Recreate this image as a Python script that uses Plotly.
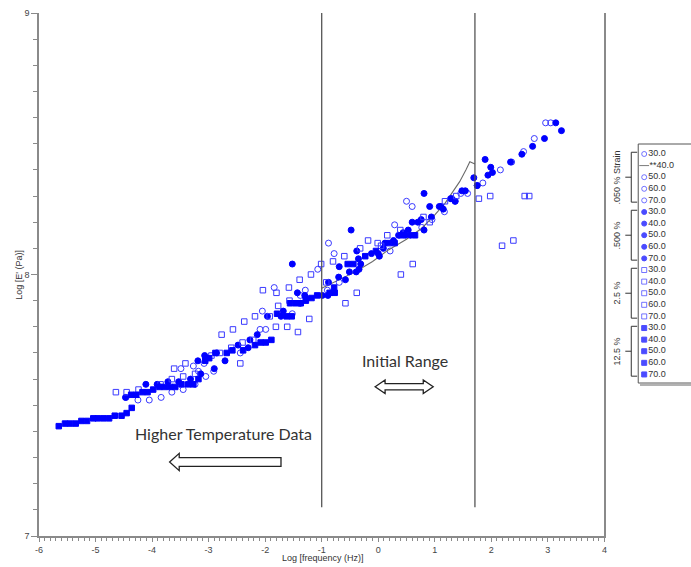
import plotly.graph_objects as go

# ---------------- data (log frequency [Hz], log E' [Pa]) ----------------
temps = [30.0, 40.0, 50.0, 60.0, 70.0]
strain_labels = [".050 % Strain", ".500 %", "2.5 %", "12.5 %"]

# .050 % strain  (open circles; 40.0 drawn as a line)
s050_30_x = [0.21, 0.29, 0.50, 0.60, 0.77, 0.95, 1.17, 1.36, 1.46, 1.58, 1.75, 1.85, 2.16, 2.36, 2.57, 2.76, 2.96, 3.05]
s050_30_y = [8.09, 8.19, 8.28, 8.26, 8.18, 8.21, 8.24, 8.28, 8.31, 8.31, 8.34, 8.35, 8.40, 8.43, 8.47, 8.52, 8.58, 8.58]
s050_40_x = [-1.00, -0.70, -0.40, -0.10, 0.18, 0.50, 0.77, 1.00, 1.18, 1.32, 1.44, 1.55, 1.62, 1.71]
s050_40_y = [7.947, 7.978, 8.011, 8.050, 8.094, 8.135, 8.177, 8.228, 8.272, 8.317, 8.355, 8.400, 8.431, 8.423]
s050_50_x = [-2.44, -2.09, -2.05, -1.99, -1.84, -1.52, -1.38, -1.29, -1.07, -0.90, -0.88, -0.78, -0.69]
s050_50_y = [7.70, 7.79, 7.86, 7.79, 7.95, 7.85, 7.92, 7.94, 8.02, 7.94, 8.12, 8.08, 7.97]
s050_60_x = [-3.27, -3.24, -3.18, -3.08, -3.05, -2.91]
s050_60_y = [7.65, 7.58, 7.63, 7.66, 7.61, 7.63]
s050_70_x = [-4.46, -4.25, -4.05, -3.84, -3.65, -3.49, -3.45]
s050_70_y = [7.53, 7.52, 7.52, 7.53, 7.55, 7.64, 7.56]

# .500 % strain (filled circles)
s500_30_x = [1.11, 1.15, 1.28, 1.30, 1.36, 1.48, 1.54, 1.69, 1.75, 1.89, 1.94, 1.99, 2.02, 2.34, 2.54, 2.73, 2.94, 3.14, 3.24]
s500_30_y = [8.26, 8.25, 8.29, 8.29, 8.28, 8.32, 8.32, 8.37, 8.34, 8.44, 8.38, 8.41, 8.39, 8.43, 8.46, 8.49, 8.52, 8.58, 8.55]
s500_40_x = [-0.12, 0.00, 0.02, 0.09, 0.12, 0.27, 0.36, 0.44, 0.48, 0.53, 0.57, 0.60, 0.70, 0.76, 0.81, 0.81, 0.91, 0.94, 1.08]
s500_40_y = [8.08, 8.08, 8.07, 8.10, 8.12, 8.13, 8.15, 8.16, 8.15, 8.17, 8.15, 8.20, 8.20, 8.21, 8.17, 8.31, 8.26, 8.22, 8.26]
s500_50_x = [-0.99, -0.89, -0.88, -0.70, -0.69, -0.58, -0.51, -0.48, -0.39, -0.38, -0.35, -0.34, -0.31]
s500_50_y = [7.92, 7.92, 7.97, 7.99, 8.03, 7.98, 8.01, 8.17, 8.01, 8.09, 8.06, 8.02, 8.04]
s500_60_x = [-2.48, -2.30, -2.27, -2.14, -1.96, -1.72, -1.68, -1.52, -1.43, -1.38, -1.30, -1.28]
s500_60_y = [7.73, 7.72, 7.75, 7.77, 7.84, 7.84, 7.86, 8.04, 7.93, 7.89, 7.92, 7.91]
s500_70_x = [-4.47, -4.11, -3.91, -3.72, -3.53, -3.32, -3.19, -3.14, -3.07, -3.05, -2.90, -2.86, -2.71]
s500_70_y = [7.53, 7.58, 7.58, 7.59, 7.59, 7.60, 7.67, 7.62, 7.69, 7.68, 7.64, 7.70, 7.67]

# 2.5 % strain (open squares)
s25_30_x = [0.61, 0.80, 0.91, 1.18, 1.38, 1.78, 1.98, 2.19, 2.39, 2.59, 2.67]
s25_30_y = [8.04, 8.22, 8.20, 8.28, 8.30, 8.29, 8.30, 8.11, 8.13, 8.30, 8.30]
s25_40_x = [-1.01, -0.92, -0.80, -0.60, -0.58, -0.38, -0.32, -0.18, -0.01, 0.05, 0.16, 0.39, 0.40]
s25_40_y = [8.04, 7.97, 8.05, 8.07, 7.89, 7.93, 8.10, 8.13, 8.12, 8.11, 8.15, 8.17, 8.00]
s25_50_x = [-2.04, -1.92, -1.81, -1.80, -1.77, -1.61, -1.58, -1.57, -1.42, -1.39, -1.22, -1.19]
s25_50_y = [7.94, 7.84, 7.80, 7.93, 7.88, 7.80, 7.95, 7.90, 7.78, 7.98, 7.83, 8.00]
s25_60_x = [-2.95, -2.80, -2.77, -2.60, -2.57, -2.44, -2.40, -2.37, -2.21, -2.18]
s25_60_y = [7.69, 7.70, 7.77, 7.72, 7.79, 7.66, 7.74, 7.82, 7.75, 7.84]
s25_70_x = [-4.64, -4.45, -4.24, -3.85, -3.65, -3.61, -3.45, -3.41, -3.24]
s25_70_y = [7.55, 7.55, 7.56, 7.58, 7.60, 7.64, 7.61, 7.66, 7.62]

# 12.5 % strain (filled squares)
s125_30_x = [-0.54, -0.44, -0.23, -0.04, 0.19, 0.29, 0.41, 0.65]
s125_30_y = [8.04, 8.04, 8.07, 8.09, 8.12, 8.12, 8.15, 8.15]
s125_40_x = [-1.79, -1.62, -1.56, -1.53, -1.46, -1.37, -1.28, -1.18, -1.08, -0.86, -0.78, -0.77]
s125_40_y = [7.85, 7.84, 7.89, 7.84, 7.89, 7.89, 7.90, 7.91, 7.92, 7.93, 7.95, 7.93]
s125_50_x = [-3.06, -2.99, -2.88, -2.68, -2.58, -2.39, -2.18, -2.08, -1.99, -1.89]
s125_50_y = [7.67, 7.68, 7.70, 7.70, 7.71, 7.71, 7.73, 7.74, 7.74, 7.75]
s125_60_x = [-4.37, -4.28, -4.17, -4.08, -3.98, -3.87, -3.78, -3.68, -3.59, -3.48, -3.36, -3.27, -3.18]
s125_60_y = [7.54, 7.54, 7.55, 7.55, 7.56, 7.57, 7.57, 7.57, 7.57, 7.58, 7.58, 7.58, 7.60]
s125_70_x = [-5.65, -5.54, -5.45, -5.35, -5.25, -5.15, -5.04, -4.96, -4.86, -4.76, -4.66, -4.54, -4.45, -4.36]
s125_70_y = [7.42, 7.43, 7.43, 7.43, 7.44, 7.44, 7.45, 7.45, 7.45, 7.45, 7.46, 7.46, 7.47, 7.49]

x_ticks = [-6, -5, -4, -3, -2, -1, 0, 1, 2, 3, 4]
y_ticks = [7, 8, 9]
range_lines_x = [-1.0, 1.71]   # "initial range" boundaries

# ---------------- styling ----------------
BLUE = "#0000ff"
OPEN = "#3a3aff"
AX = "#8a8a8a"
FONT = "Liberation Sans"

groups = [
    ("circle-open", [(s050_30_x, s050_30_y), (s050_40_x, s050_40_y), (s050_50_x, s050_50_y),
                     (s050_60_x, s050_60_y), (s050_70_x, s050_70_y)]),
    ("circle", [(s500_30_x, s500_30_y), (s500_40_x, s500_40_y), (s500_50_x, s500_50_y),
                (s500_60_x, s500_60_y), (s500_70_x, s500_70_y)]),
    ("square-open", [(s25_30_x, s25_30_y), (s25_40_x, s25_40_y), (s25_50_x, s25_50_y),
                     (s25_60_x, s25_60_y), (s25_70_x, s25_70_y)]),
    ("square", [(s125_30_x, s125_30_y), (s125_40_x, s125_40_y), (s125_50_x, s125_50_y),
                (s125_60_x, s125_60_y), (s125_70_x, s125_70_y)]),
]

fig = go.Figure()

for gi, (sym, series) in enumerate(groups):
    for ti, (xs, ys) in enumerate(series):
        name = f"{strain_labels[gi]} {temps[ti]:.1f}"
        if gi == 0 and ti == 1:
            fig.add_trace(go.Scatter(x=xs, y=ys, mode="lines", name=name,
                                     line=dict(color="#6a6a6a", width=1.1),
                                     showlegend=False, xaxis="x", yaxis="y"))
            continue
        is_open = sym.endswith("open")
        size = 6 if sym.startswith("circle") else 5.5
        fig.add_trace(go.Scatter(
            x=xs, y=ys, mode="markers", name=name, showlegend=False,
            marker=dict(symbol=sym, size=size,
                        color=OPEN if is_open else BLUE,
                        line=dict(color=OPEN if is_open else BLUE, width=1)),
            xaxis="x", yaxis="y"))

# ---------------- custom legend (own little axes) ----------------
leg_sym, leg_col, leg_lc, leg_lw, leg_txt, leg_size = [], [], [], [], [], []
for gi, (sym, _) in enumerate(groups):
    for ti, t in enumerate(temps):
        if gi == 0 and ti == 1:
            leg_sym.append("line-ew")
            leg_col.append("#444")
            leg_lc.append("#444")
            leg_lw.append(1)
            leg_txt.append(f"**{t:.1f}")
            leg_size.append(7)
        else:
            is_open = sym.endswith("open")
            leg_sym.append(sym)
            leg_col.append(OPEN if is_open else BLUE)
            leg_lc.append(OPEN if is_open else BLUE)
            leg_lw.append(1)
            leg_txt.append(f"{t:.1f}")
            leg_size.append(5)
n_leg = len(leg_txt)
fig.add_trace(go.Scatter(
    x=[0.12] * n_leg, y=list(range(n_leg)), mode="markers+text",
    text=leg_txt, textposition="middle right",
    textfont=dict(family=FONT, size=9, color="#333"),
    marker=dict(symbol=leg_sym, color=leg_col, size=leg_size,
                line=dict(color=leg_lc, width=leg_lw)),
    showlegend=False, hoverinfo="skip", xaxis="x2", yaxis="y2"))

# ---------------- shapes ----------------
shapes = []
for xv in range_lines_x:
    shapes.append(dict(type="line", xref="x", yref="y", x0=xv, x1=xv, y0=7.11, y1=9,
                       line=dict(color="#555", width=1.3)))

# hollow arrows
shapes.append(dict(type="path", xref="x", yref="y",
                   path="M -3.69,7.283 L -3.52,7.316 L -3.52,7.300 L -1.72,7.300 L -1.72,7.266 "
                        "L -3.52,7.266 L -3.52,7.250 Z",
                   line=dict(color="#222", width=1.3), fillcolor="white"))
shapes.append(dict(type="path", xref="x", yref="y",
                   path="M -0.055,7.571 L 0.121,7.597 L 0.121,7.583 L 0.796,7.583 L 0.796,7.597 "
                        "L 0.972,7.571 L 0.796,7.545 L 0.796,7.559 L 0.121,7.559 L 0.121,7.545 Z",
                   line=dict(color="#222", width=1.3), fillcolor="white"))

# legend box
shapes.append(dict(type="rect", xref="paper", yref="paper", x0=0.9233, x1=1.05, y0=0.2925, y1=0.7495,
                   line=dict(color="#555", width=1)))
shapes.append(dict(type="line", xref="paper", yref="paper", x0=0.926, x1=1.05, y0=0.2885, y1=0.2885,
                   line=dict(color="#999", width=1.5)))

# group brackets
for gi in range(len(strain_labels)):
    top, bot, mid = gi * 5 - 0.15, gi * 5 + 4.15, gi * 5 + 2
    shapes.append(dict(type="line", xref="paper", yref="y2", x0=0.9126, x1=0.9126, y0=top, y1=bot,
                       line=dict(color="#333", width=1)))
    shapes.append(dict(type="line", xref="paper", yref="y2", x0=0.9126, x1=0.9217, y0=top, y1=top,
                       line=dict(color="#333", width=1)))
    shapes.append(dict(type="line", xref="paper", yref="y2", x0=0.9126, x1=0.9217, y0=bot, y1=bot,
                       line=dict(color="#333", width=1)))
    shapes.append(dict(type="line", xref="paper", yref="y2", x0=0.9034, x1=0.9126, y0=mid, y1=mid,
                       line=dict(color="#333", width=1)))

# ---------------- annotations ----------------
C = dict(xanchor="center", yanchor="middle", showarrow=False)
annotations = [
    dict(text="Log [E' (Pa)]", xref="paper", yref="paper", x=-0.032, y=0.5, textangle=-90,
         font=dict(family=FONT, size=9, color="#333"), **C),
    dict(text="Log [frequency (Hz)]", xref="paper", yref="paper", x=0.437, y=-0.042,
         font=dict(family=FONT, size=9, color="#333"), **C),
    dict(text="Initial Range", xref="paper", yref="paper", x=0.5644, y=0.3365,
         font=dict(family="Lato", size=16, color="#333"), **C),
    dict(text="Higher Temperature Data", xref="paper", yref="paper", x=0.2837, y=0.1969,
         font=dict(family="Lato", size=16, color="#333"), **C),
]
for gi, lab in enumerate(strain_labels):
    annotations.append(dict(text=lab, xref="paper", yref="y2", x=0.891, y=gi * 5 + 2,
                            textangle=-90, font=dict(family=FONT, size=9, color="#333"), **C))

fig.update_layout(
    width=691, height=567,
    margin=dict(l=39, r=0, t=13, b=31),
    paper_bgcolor="white", plot_bgcolor="white",
    showlegend=False,
    xaxis=dict(domain=[0, 0.8712], range=[-6, 4], tickvals=x_ticks,
               ticktext=[str(v) for v in x_ticks],
               showline=True, linecolor=AX, linewidth=1.5, ticks="outside", ticklen=4,
               tickcolor=AX, tickwidth=1, tickfont=dict(family=FONT, size=9, color="#444"),
               minor=dict(dtick=0.1, ticks="outside", ticklen=3, tickcolor=AX),
               showgrid=False, zeroline=False, fixedrange=True),
    yaxis=dict(domain=[0, 1], range=[7, 9], tickvals=y_ticks,
               ticktext=[str(v) for v in y_ticks],
               showline=True, linecolor=AX, linewidth=1.5, mirror=True, ticks="outside", ticklen=6,
               tickcolor=AX, tickwidth=1, tickfont=dict(family=FONT, size=9, color="#444"),
               minor=dict(dtick=0.1, ticks="outside", ticklen=4, tickcolor=AX),
               showgrid=False, zeroline=False, fixedrange=True),
    xaxis2=dict(domain=[0.9233, 1.0], range=[0, 1], visible=False, fixedrange=True, anchor="y2"),
    yaxis2=dict(domain=[0.2925, 0.7495], range=[19.74, -0.86], visible=False, fixedrange=True,
                anchor="x2"),
    shapes=shapes,
    annotations=annotations,
)

fig.write_html("out.html", config={"displayModeBar": False},
               post_script="document.body.style.margin='0';")
